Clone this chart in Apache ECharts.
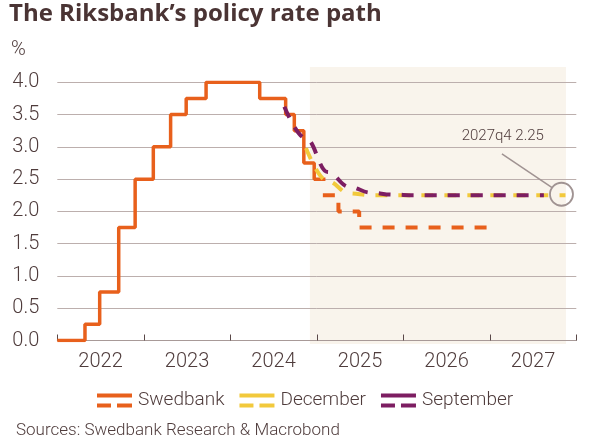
<!DOCTYPE html>
<html>
<head>
<meta charset="utf-8">
<script src="https://cdn.jsdelivr.net/npm/echarts@6/dist/echarts.min.js"></script>
<style>
html,body{margin:0;padding:0;background:#fff;}
#chart{width:591px;height:441px;}
</style>
</head>
<body>
<div id="chart"></div>
<script>
// ---- Data ----
var yearLabels = ['2022', '2023', '2024', '2025', '2026', '2027'];
var yTicks = [0, 0.5, 1.0, 1.5, 2.0, 2.5, 3.0, 3.5, 4.0];

// Swedbank / actual policy rate (decimal year when each level takes effect)
var swedbankHistX = [2022.00, 2022.32, 2022.49, 2022.71, 2022.90, 2023.11, 2023.31, 2023.49, 2023.72, 2024.34, 2024.64, 2024.74, 2024.85, 2024.97, 2025.10];
var swedbankHistY = [0.00, 0.25, 0.75, 1.75, 2.50, 3.00, 3.50, 3.75, 4.00, 3.75, 3.50, 3.25, 2.75, 2.50, 2.50];

// Swedbank forecast
var swedbankFcX = [2025.07, 2025.25, 2025.49, 2027.00];
var swedbankFcY = [2.25, 2.00, 1.75, 1.75];

// Riksbank December forecast (quarterly, mid-quarter)
var decemberX = [2024.875, 2025.125, 2025.375, 2025.625, 2025.875, 2026.125, 2026.375, 2026.625, 2026.875, 2027.125, 2027.375, 2027.625, 2027.875];
var decemberY = [2.98, 2.47, 2.28, 2.25, 2.25, 2.25, 2.25, 2.25, 2.25, 2.25, 2.25, 2.25, 2.25];

// Riksbank September forecast (quarterly, mid-quarter)
var septemberX = [2024.625, 2024.875, 2025.125, 2025.375, 2025.625, 2025.875, 2026.125, 2026.375, 2026.625, 2026.875, 2027.125, 2027.375, 2027.625];
var septemberY = [3.62, 3.13, 2.61, 2.38, 2.29, 2.26, 2.25, 2.25, 2.25, 2.25, 2.25, 2.25, 2.25];

// Forecast period shading
var forecastStart = 2024.92;
var forecastEnd = 2027.88;

// Annotation
var annotText = '2027q4 2.25';
var annotPoint = [2027.875, 2.25];
var annotTextPos = [2027.15, 3.17];
var annotLineFrom = [2027.14, 2.89];
var annotLineTo = [2027.72, 2.37];

function pairs(xs, ys) { return xs.map(function (x, i) { return [x, ys[i]]; }); }

var ORANGE = '#e8601c';
var YELLOW = '#f2c93c';
var PURPLE = '#7d1e62';
var TXT = '#4f3c3c';
var GRID = '#bcafad';
var FONT = 'Roboto';
var DASH = [12, 11];

var chart = echarts.init(document.getElementById('chart'), null, {renderer: 'canvas'});

var iconPath = 'path://M0,0H35V4H0Z M0,10H14V14H0Z M20,10H35V14H20Z';

var option = {
  animation: false,
  textStyle: {fontFamily: FONT},
  title: [
    {text: 'The Riksbank\u2019s policy rate path', left: 9, top: 2, padding: 0,
     textStyle: {fontFamily: 'Open Sans', fontWeight: 'bold', fontSize: 24, color: '#4a3434'}},
    {text: '%', left: 11, top: 40, padding: 0,
     textStyle: {fontFamily: FONT, fontWeight: 300, fontSize: 20, color: TXT}},
    {text: 'Sources: Swedbank Research & Macrobond', left: 16, top: 422, padding: 0,
     textStyle: {fontFamily: FONT, fontWeight: 300, fontSize: 17, color: TXT}}
  ],
  legend: {
    left: 97, top: 391, padding: 0,
    itemWidth: 35, itemHeight: 14, itemGap: 15,
    textStyle: {fontFamily: FONT, fontWeight: 300, fontSize: 19, color: TXT, padding: [0, 0, 0, 1]},
    itemStyle: {borderWidth: 0},
    data: [
      {name: 'Swedbank', icon: iconPath},
      {name: 'December', icon: iconPath},
      {name: 'September', icon: iconPath}
    ]
  },
  grid: [
    {left: 57.3, right: 14.7, top: 82.3, bottom: 100.5},
    {left: 57.3, right: 14.7, top: 67, bottom: 97}
  ],
  xAxis: [
    {type: 'value', gridIndex: 0, min: 2022, max: 2028, show: false},
    {type: 'category', gridIndex: 0, data: yearLabels, boundaryGap: true, position: 'bottom',
     axisLine: {show: true, lineStyle: {color: '#a89a98', width: 1}},
     axisTick: {show: true, inside: true, length: 6, lineStyle: {color: '#5a4848', width: 1}},
     axisLabel: {fontFamily: FONT, fontWeight: 300, fontSize: 20, color: TXT, margin: 11},
     splitLine: {show: false}},
    {type: 'value', gridIndex: 1, min: 2022, max: 2028, show: false}
  ],
  yAxis: [
    {type: 'value', gridIndex: 0, min: 0, max: 4, interval: 0.5,
     axisLine: {show: false}, axisTick: {show: false},
     axisLabel: {fontFamily: FONT, fontWeight: 300, fontSize: 20, color: TXT, margin: 18,
       formatter: function (v) { return yTicks.indexOf(v) >= 0 ? v.toFixed(1) : ''; }},
     splitLine: {show: true, lineStyle: {color: GRID, width: 1}}},
    {type: 'value', gridIndex: 1, min: 0, max: 1, show: false}
  ],
  series: [
    {name: 'shade', type: 'line', xAxisIndex: 2, yAxisIndex: 1, data: [], silent: true,
     markArea: {z: -1, silent: true, itemStyle: {color: '#f9f4ec'},
       data: [[{xAxis: forecastStart, yAxis: 0}, {xAxis: forecastEnd, yAxis: 1}]]}},
    {name: 'Swedbank', type: 'line', xAxisIndex: 0, yAxisIndex: 0, step: 'end', showSymbol: false,
     data: pairs(swedbankHistX, swedbankHistY),
     itemStyle: {color: ORANGE}, lineStyle: {color: ORANGE, width: 3.5}},
    {name: 'Swedbank', type: 'line', xAxisIndex: 0, yAxisIndex: 0, step: 'end', showSymbol: false,
     data: pairs(swedbankFcX, swedbankFcY),
     itemStyle: {color: ORANGE}, lineStyle: {color: ORANGE, width: 4, type: DASH}},
    {name: 'December', type: 'line', xAxisIndex: 0, yAxisIndex: 0, smooth: 0.4, smoothMonotone: 'x', showSymbol: false,
     data: pairs(decemberX, decemberY),
     itemStyle: {color: YELLOW}, lineStyle: {color: YELLOW, width: 4, type: DASH},
     markLine: {silent: true, symbol: ['none', 'none'], animation: false,
       lineStyle: {color: '#a09392', width: 1.5, type: 'solid'}, label: {show: false},
       data: [[{coord: annotLineFrom}, {coord: annotLineTo}]]},
     markPoint: {silent: true, animation: false,
       data: [
         {coord: annotPoint, symbol: 'circle', symbolSize: 23, symbolOffset: [-4, -1],
          itemStyle: {color: 'rgba(0,0,0,0)', borderColor: '#a09392', borderWidth: 1.8},
          label: {show: false}},
         {coord: annotTextPos, symbol: 'circle', symbolSize: 0,
          label: {show: true, position: 'inside', formatter: annotText,
                  fontFamily: FONT, fontWeight: 300, fontSize: 15, color: TXT}}
       ]}},
    {name: 'September', type: 'line', xAxisIndex: 0, yAxisIndex: 0, smooth: 0.4, smoothMonotone: 'x', showSymbol: false,
     data: pairs(septemberX, septemberY),
     itemStyle: {color: PURPLE}, lineStyle: {color: PURPLE, width: 4, type: DASH}}
  ]
};
chart.setOption(option);
</script>
</body>
</html>
